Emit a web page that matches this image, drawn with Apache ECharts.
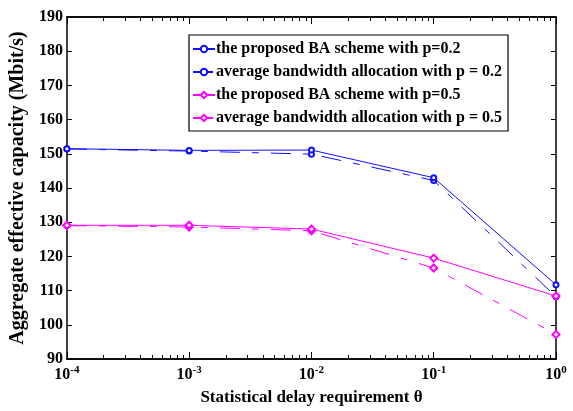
<!DOCTYPE html>
<html><head><meta charset="utf-8">
<script src="https://cdn.jsdelivr.net/npm/echarts@6/dist/echarts.min.js"></script>
<style>html,body{margin:0;padding:0;background:#fff}#c{width:573px;height:411px}</style>
</head><body><div id="c"></div>
<script>
var thetas = [1e-4, 1e-3, 1e-2, 1e-1, 1];
var propP02 = [151.5, 151.0, 151.1, 143.0, 111.7];
var avgP02 = [151.4, 150.8, 149.9, 142.2, 108.2];
var propP05 = [129.1, 129.1, 128.0, 119.5, 108.4];
var avgP05 = [129.0, 128.6, 127.5, 116.6, 97.2];
var seriesNames = ['the proposed BA scheme with p=0.2','average bandwidth allocation with p = 0.2','the proposed BA scheme with p=0.5','average bandwidth allocation with p = 0.5'];
var yTicks = [90,100,110,120,130,140,150,160,170,180,190];

var FONT = '"Liberation Serif", "Times New Roman", serif';
var BLUE = '#1010ff', MAG = '#ff00ff';
var minorVals = [];
for (var d = -4; d < 0; d++) for (var m = 2; m <= 9; m++) minorVals.push(m * Math.pow(10, d));
function pairs(v){ return thetas.map(function(t,i){ return [t, v[i]]; }); }
var dash = [20, 12, 7, 12];

function xAxisDef(pos, major, labels){
  return {
    type: 'log', logBase: 10, min: 1e-4, max: 1, position: pos,
    axisLine: {show: true, onZero: false, lineStyle: {color: '#000', width: 1.5}},
    axisTick: {show: true, inside: true, length: major ? 7 : 4, lineStyle: {color: '#000', width: 1},
      customValues: major ? thetas : minorVals},
    axisLabel: labels ? {
      show: true, margin: 6, fontFamily: FONT, fontWeight: 'bold', color: '#000',
      customValues: thetas,
      formatter: function(v){ var e = Math.round(Math.log10(v)); return '{b|10}{s|' + e + '}'; },
      rich: {b: {fontSize: 16, fontFamily: FONT, fontWeight: 'bold', color: '#000'},
             s: {fontSize: 11, fontFamily: FONT, fontWeight: 'bold', color: '#000', padding: [0,0,9,0]}}
    } : {show: false},
    splitLine: {show: false},
    name: labels ? 'Statistical delay requirement θ' : '',
    nameLocation: 'middle', nameGap: 30,
    nameTextStyle: {fontFamily: FONT, fontWeight: 'bold', fontSize: 17, color: '#000'}
  };
}
function yAxisDef(pos, labels){
  return {
    type: 'value', min: yTicks[0], max: yTicks[yTicks.length-1], interval: 10, position: pos,
    axisLine: {show: true, lineStyle: {color: '#000', width: 1.5}},
    axisTick: {show: true, inside: true, length: 5, lineStyle: {color: '#000'}},
    axisLabel: labels ? {show: true, margin: 4, fontFamily: FONT, fontWeight: 'bold', fontSize: 16, color: '#000'} : {show: false},
    splitLine: {show: false},
    name: labels ? 'Aggregate effective capacity (Mbit/s)' : '',
    nameLocation: 'middle', nameGap: 31,
    nameTextStyle: {fontFamily: FONT, fontWeight: 'bold', fontSize: 20, color: '#000'}
  };
}
function ser(name, data, color, symbol, dashed){
  return {
    name: name, type: 'line', data: pairs(data), xAxisIndex: 0, yAxisIndex: 0,
    symbol: symbol, symbolSize: symbol === 'emptyDiamond' ? 7 : 5, showSymbol: true,
    lineStyle: {color: color, width: 1, type: dashed ? dash : 'solid'},
    itemStyle: {color: color, borderColor: color, borderWidth: 1.5},
    emphasis: {disabled: true}, animation: false, z: dashed ? 2 : 3
  };
}
var chart = echarts.init(document.getElementById('c'), null, {renderer: 'canvas'});
chart.setOption({
  animation: false,
  backgroundColor: '#fff',
  grid: {left: 61, right: 17, top: 17, bottom: 47, containLabel: false},
  xAxis: [xAxisDef('bottom', true, true), xAxisDef('bottom', false, false), xAxisDef('top', true, false), xAxisDef('top', false, false)],
  yAxis: [yAxisDef('left', true), yAxisDef('right', false)],
  legend: {
    orient: 'vertical', left: 189, top: 35, width: 326,
    backgroundColor: '#fff', borderColor: '#000', borderWidth: 1.2, borderRadius: 0,
    padding: [6, 6, 5, 3], itemGap: 7, itemWidth: 22, itemHeight: 8,
    textStyle: {fontFamily: FONT, fontWeight: 'bold', fontSize: 16, color: '#000', padding: [0,0,0,-4]},
    data: seriesNames
  },
  series: [
    ser(seriesNames[0], propP02, BLUE, 'emptyCircle', false),
    ser(seriesNames[1], avgP02, BLUE, 'emptyCircle', true),
    ser(seriesNames[2], propP05, MAG, 'emptyDiamond', false),
    ser(seriesNames[3], avgP05, MAG, 'emptyDiamond', true)
  ]
});
</script></body></html>
